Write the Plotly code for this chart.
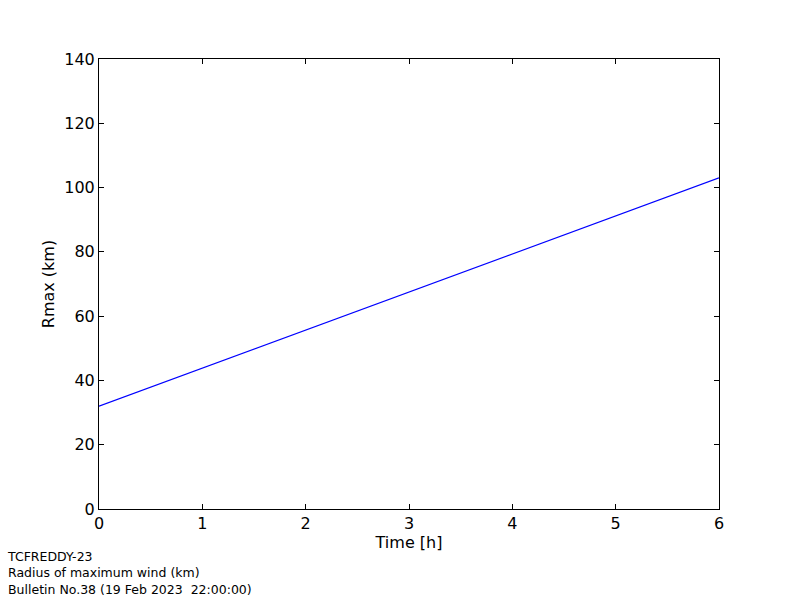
import plotly.graph_objects as go

hours = [0, 1, 2, 3, 4, 5, 6]
rmax_km = [32.0, 43.8, 55.7, 67.5, 79.3, 91.2, 103.0]
x_ticks = [0, 1, 2, 3, 4, 5, 6]
y_ticks = [0, 20, 40, 60, 80, 100, 120, 140]
footer_lines = ["TCFREDDY-23", "Radius of maximum wind (km)", "Bulletin No.38 (19 Feb 2023&nbsp;&nbsp;22:00:00)"]

L, R, T, B = 99, 81, 59, 91
W, H = 800, 600
pw, ph = W - L - R, H - T - B

fig = go.Figure()
fig.add_trace(go.Scatter(x=hours, y=rmax_km, mode="lines",
                         line=dict(color="#0000ff", width=1.2), showlegend=False,
                         hoverinfo="skip"))

axis_common = dict(showgrid=False, zeroline=False, showline=True, linecolor="black",
                   linewidth=1, mirror="ticks", ticks="inside", ticklen=5,
                   tickcolor="black", tickwidth=1,
                   tickfont=dict(family="DejaVu Sans", size=16, color="black"))

fig.update_xaxes(range=[0, 6], tickvals=x_ticks, ticktext=[str(v) for v in x_ticks],
                 title=dict(text="Time [h]", font=dict(family="DejaVu Sans", size=16, color="black"), standoff=4),
                 **axis_common)
fig.update_yaxes(range=[0, 140], tickvals=y_ticks, ticktext=[str(v) for v in y_ticks],
                 title=dict(text="Rmax (km)", font=dict(family="DejaVu Sans", size=16, color="black"), standoff=5),
                 **axis_common)

fig.add_annotation(text="<br>".join(footer_lines), xref="paper", yref="paper",
                   x=(6 - L) / pw, y=(T + ph - 598) / ph, align="left",
                   xanchor="left", yanchor="bottom", showarrow=False, borderpad=0,
                   font=dict(family="DejaVu Sans", size=12.5, color="black"))

fig.update_layout(width=W, height=H, margin=dict(l=L, r=R, t=T, b=B, pad=0),
                  paper_bgcolor="white", plot_bgcolor="white",
                  font=dict(family="DejaVu Sans", color="black"))

fig.write_html("out.html", config={"displayModeBar": False},
               post_script="document.body.style.margin='0';document.body.style.padding='0';")
